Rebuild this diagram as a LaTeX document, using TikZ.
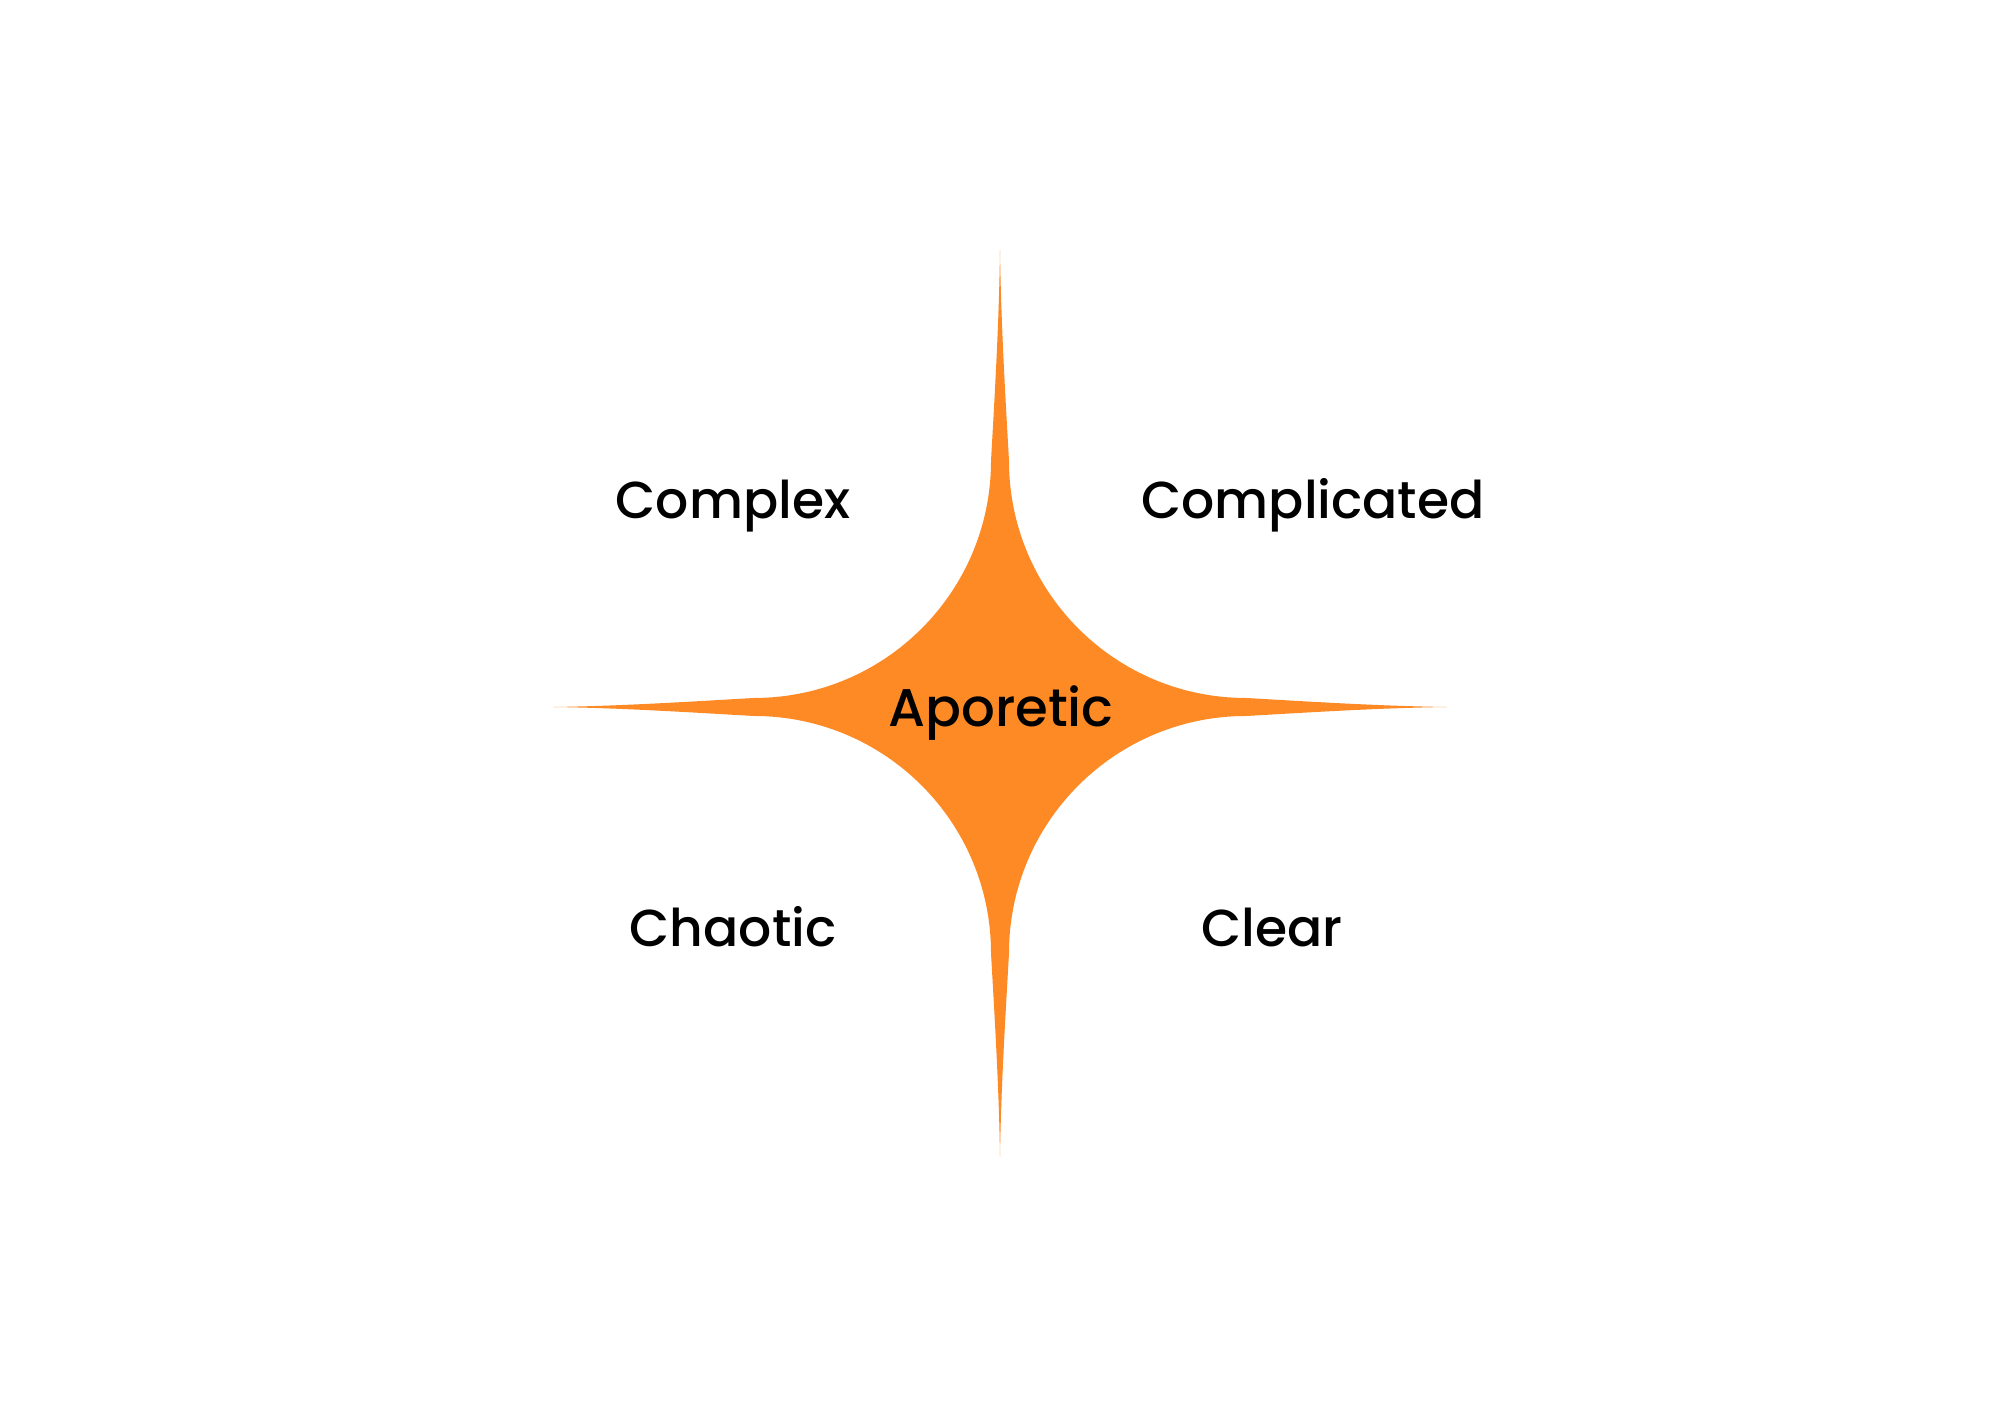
\documentclass[tikz,border=0pt]{standalone}
\usepackage{fontspec}
\setmainfont{Poppins}[UprightFont={* Medium}]
\definecolor{starorange}{HTML}{FE8A26}
\begin{document}
\begin{tikzpicture}[x=1pt,y=1pt,
  lab/.style={font=\fontsize{52}{60}\selectfont, anchor=base, inner sep=0pt, text=black}]
\useasboundingbox (0,0) rectangle (2000,1414);
\fill[white] (0,0) rectangle (2000,1414);
\begin{scope}[shift={(1000,707)}]
\fill[starorange] (0,457) .. controls (1,380) and (6,300) .. (9,246)
  arc[start angle=180,end angle=270,radius=237pt]
  .. controls (300,6) and (375,1) .. (447,0)
  .. controls (375,-1) and (300,-6) .. (246,-9)
  arc[start angle=90,end angle=180,radius=237pt]
  .. controls (6,-300) and (1,-378) .. (0,-450)
  .. controls (-1,-378) and (-6,-300) .. (-9,-246)
  arc[start angle=0,end angle=90,radius=237pt]
  .. controls (-300,-6) and (-375,-1) .. (-447,0)
  .. controls (-375,1) and (-300,6) .. (-246,9)
  arc[start angle=270,end angle=360,radius=237pt]
  .. controls (-6,300) and (-1,380) .. (0,457) -- cycle;
\end{scope}
\node[lab] (complex) at (733,895) {Complex};
\node[lab] (complicated) at (1313,895) {Complicated};
\node[lab, font=\fontsize{53}{60}\selectfont] (aporetic) at (1001,687) {Aporetic};
\node[lab] (chaotic) at (733,467) {Chaotic};
\node[lab] (clear) at (1272,467) {Clear};
\end{tikzpicture}
\end{document}
